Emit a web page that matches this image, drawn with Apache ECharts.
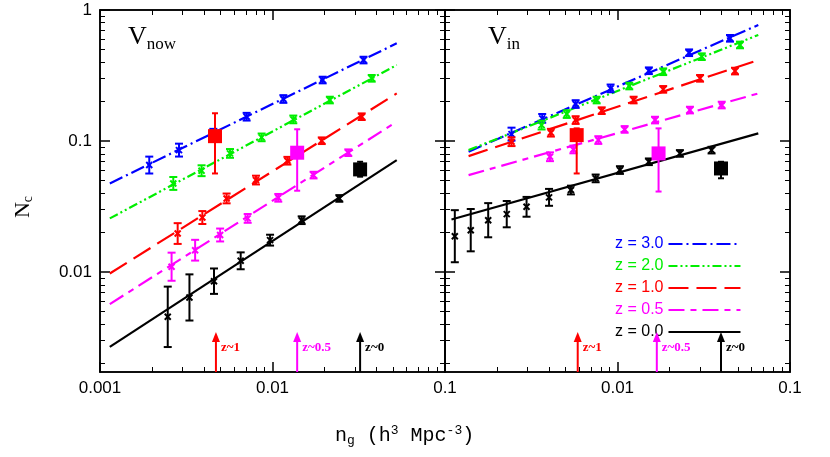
<!DOCTYPE html>
<html lang="en">
<head>
<meta charset="UTF-8">
<title>Nc vs ng</title>
<script src="https://cdn.jsdelivr.net/npm/echarts@6/dist/echarts.min.js"></script>
</head>
<body style="margin:0">
<div id="main" style="width:830px;height:457px;"></div>
<script>
// ---- data: left panel (V_now) ----
const nowBlueX = [0.00193, 0.00287, 0.00454, 0.00708, 0.01156, 0.01954, 0.0337];
const nowBlueY = [0.0656, 0.0853, 0.1158, 0.1534, 0.2094, 0.2922, 0.415];
const nowBlueE = [1.16, 1.12, 1.07, 1.07, 1.07, 1.06, 1.06];
const nowGreenX = [0.00266, 0.00388, 0.00567, 0.00865, 0.0132, 0.0215, 0.0376];
const nowGreenY = [0.0475, 0.0594, 0.0805, 0.1067, 0.1463, 0.2056, 0.301];
const nowGreenE = [1.12, 1.1, 1.08, 1.07, 1.07, 1.06, 1.06];
const nowRedX = [0.00282, 0.00392, 0.00542, 0.00802, 0.0122, 0.0193, 0.0329];
const nowRedY = [0.0197, 0.0261, 0.0365, 0.0504, 0.0708, 0.1006, 0.1534];
const nowRedE = [1.2, 1.12, 1.09, 1.08, 1.07, 1.06, 1.06];
const nowMagX = [0.0026, 0.00356, 0.00497, 0.00718, 0.0108, 0.0173, 0.0275];
const nowMagY = [0.011, 0.0147, 0.0192, 0.0257, 0.0369, 0.055, 0.0815];
const nowMagE = [1.28, 1.2, 1.12, 1.08, 1.07, 1.06, 1.06];
const nowBlackX = [0.00247, 0.0033, 0.00458, 0.00654, 0.00968, 0.01476, 0.0244];
const nowBlackY = [0.00456, 0.00641, 0.00853, 0.0122, 0.01754, 0.0249, 0.0365];
const nowBlackE = [1.7, 1.5, 1.25, 1.16, 1.1, 1.07, 1.06];
const nowFitX = [0.00114, 0.0525];
const nowFitBlue = [0.0475, 0.557];
const nowFitGreen = [0.0257, 0.38];
const nowFitRed = [0.00977, 0.231];
const nowFitMag = [0.0057, 0.1405];
const nowFitBlack = [0.00269, 0.0716];

// ---- data: right panel (V_in) ----
const inBlueX = [0.00243, 0.00366, 0.00572, 0.00912, 0.0152, 0.026, 0.0449];
const inBlueY = [0.113, 0.149, 0.1916, 0.2523, 0.344, 0.472, 0.608];
const inBlueE = [1.12, 1.08, 1.07, 1.07, 1.06, 1.06, 1.06];
const inGreenX = [0.00363, 0.00508, 0.00757, 0.0117, 0.0184, 0.0308, 0.0513];
const inGreenY = [0.1324, 0.1607, 0.2056, 0.263, 0.338, 0.4405, 0.541];
const inGreenE = [1.08, 1.07, 1.06, 1.06, 1.06, 1.06, 1.06];
const inRedX = [0.00243, 0.00411, 0.00572, 0.0081, 0.0124, 0.0184, 0.0301, 0.048];
const inRedY = [0.0989, 0.1158, 0.1446, 0.1706, 0.2056, 0.248, 0.301, 0.342];
const inRedE = [1.08, 1.07, 1.07, 1.06, 1.06, 1.06, 1.06, 1.06];
const inMagX = [0.00406, 0.00555, 0.00774, 0.011, 0.0165, 0.0263, 0.0402];
const inMagY = [0.0759, 0.0863, 0.1018, 0.1227, 0.1446, 0.1724, 0.1883];
const inMagE = [1.08, 1.07, 1.07, 1.06, 1.06, 1.06, 1.06];
const inBlackX = [0.00114, 0.00141, 0.00178, 0.00228, 0.00297, 0.00401, 0.00537, 0.00747, 0.01033, 0.0152, 0.023, 0.0351];
const inBlackY = [0.0188, 0.0209, 0.0249, 0.0277, 0.0315, 0.0372, 0.0423, 0.0519, 0.0601, 0.0695, 0.0805, 0.0853];
const inBlackE = [1.58, 1.45, 1.35, 1.26, 1.19, 1.16, 1.08, 1.07, 1.07, 1.06, 1.06, 1.06];
const inFitX = [0.00137, 0.0655];
const inFitBlue = [0.083, 0.768];
const inFitGreen = [0.0853, 0.645];
const inFitRed = [0.0768, 0.415];
const inFitMag = [0.055, 0.231];
const inFitBlackX = [0.00109, 0.0655];
const inFitBlack = [0.0252, 0.1145];

// ---- observed points (squares) ----
const obsColors = ['#ff0000', '#ff00ff', '#000000'];
const nowObsX = [0.00464, 0.0139, 0.0322];
const nowObsY = [0.109, 0.0815, 0.0608];
const nowObsLo = [0.0566, 0.0418, 0.0535];
const nowObsHi = [0.163, 0.123, 0.0695];
const inObsX = [0.0058, 0.0173, 0.0398];
const inObsY = [0.111, 0.0805, 0.0618];
const inObsLo = [0.0566, 0.0412, 0.052];
const inObsHi = [0.125, 0.125, 0.0695];

// ---- arrows ----
const arrowLabels = ['z~1', 'z~0.5', 'z~0'];
const nowArrowX = [0.0047, 0.0139, 0.0322];
const inArrowX = [0.00588, 0.0169, 0.0398];
const arrowTop = 0.0035;

const yTicks = [0.01, 0.1, 1];
const xTicks = [0.001, 0.01, 0.1];

const names = ['z = 3.0', 'z = 2.0', 'z = 1.0', 'z = 0.5', 'z = 0.0'];
const colors = ['#0000ff', '#00ee00', '#ff0000', '#ff00ff', '#000000'];
const dashes = [[14, 4, 2, 4], [9, 3, 2, 3, 2, 3], [20, 8], [16, 6, 6, 6], 'solid'];

const YMIN = 0.00173, YMAX = 1, XMIN = 0.001, XMAX = 0.1;

function minors(lo, hi) {
    const out = [];
    for (let d = lo; d < hi * 0.99; d *= 10) {
        for (let k = 2; k <= 9; k++) out.push(+(d * k).toPrecision(3));
    }
    return out;
}
const xMinor = minors(0.001, 0.1);
const yMinor = minors(0.001, 1).filter(v => v > YMIN);

const grids = [
    { left: 100, top: 10, width: 345, height: 362 },
    { left: 445, top: 10, width: 345, height: 362 }
];

const xAxes = [], yAxes = [];
function addAxes(gi, labels) {
    const base = { type: 'log', gridIndex: gi, min: XMIN, max: XMAX, logBase: 10, splitLine: { show: false }, axisLine: { lineStyle: { color: '#000', width: 1.5 } } };
    ['bottom', 'top'].forEach(pos => {
        xAxes.push(Object.assign({}, base, {
            position: pos,
            axisTick: { inside: true, length: 10, customValues: xTicks, lineStyle: { color: '#000', width: 1.5 } },
            axisLabel: { show: pos === 'bottom', customValues: labels, color: '#000', fontSize: 17, fontFamily: 'Liberation Sans', margin: 8,
                formatter: v => String(+v.toPrecision(1)) }
        }));
        xAxes.push(Object.assign({}, base, {
            position: pos,
            axisTick: { inside: true, length: 5, customValues: xMinor, lineStyle: { color: '#000', width: 1 } },
            axisLabel: { show: true, customValues: xMinor, formatter: () => '' }
        }));
    });
    const ybase = { type: 'log', gridIndex: gi, min: YMIN, max: YMAX, logBase: 10, splitLine: { show: false }, axisLine: { lineStyle: { color: '#000', width: 1.5 } } };
    ['left', 'right'].forEach(pos => {
        yAxes.push(Object.assign({}, ybase, {
            position: pos,
            axisTick: { inside: true, length: 10, customValues: yTicks, lineStyle: { color: '#000', width: 1.5 } },
            axisLabel: { show: gi === 0 && pos === 'left', customValues: yTicks, color: '#000', fontSize: 17, fontFamily: 'Liberation Sans', margin: 8,
                formatter: v => String(+v.toPrecision(1)) }
        }));
        yAxes.push(Object.assign({}, ybase, {
            position: pos,
            axisTick: { inside: true, length: 5, customValues: yMinor, lineStyle: { color: '#000', width: 1 } },
            axisLabel: { show: true, customValues: yMinor, formatter: () => '' }
        }));
    });
}
addAxes(0, xTicks);
addAxes(1, [0.01, 0.1]);

const series = [];
function ax(gi) { return { xAxisIndex: gi * 4, yAxisIndex: gi * 4 }; }

function fit(gi, name, xs, ys, k) {
    series.push(Object.assign({
        name: name, type: 'line', showSymbol: false, symbol: 'none', silent: true,
        data: xs.map((x, i) => [x, ys[i]]),
        lineStyle: { color: colors[k], width: 2.2, type: dashes[k] },
        itemStyle: { color: colors[k] }, z: 2
    }, ax(gi)));
}

function points(gi, xs, ys, es, k) {
    series.push(Object.assign({
        type: 'custom', silent: true, z: 3,
        data: xs.map((x, i) => [x, ys[i], es[i]]),
        encode: { x: 0, y: 1 },
        renderItem: function (params, api) {
            const x = api.value(0), y = api.value(1), f = api.value(2);
            const p = api.coord([x, y]);
            const t = api.coord([x, y * f]);
            const b = api.coord([x, y / f]);
            const st = { stroke: colors[k], lineWidth: 2 };
            return {
                type: 'group', children: [
                    { type: 'line', shape: { x1: p[0], y1: t[1], x2: p[0], y2: b[1] }, style: st },
                    { type: 'line', shape: { x1: p[0] - 4, y1: t[1], x2: p[0] + 4, y2: t[1] }, style: st },
                    { type: 'line', shape: { x1: p[0] - 4, y1: b[1], x2: p[0] + 4, y2: b[1] }, style: st },
                    { type: 'line', shape: { x1: p[0] - 3, y1: p[1] - 3, x2: p[0] + 3, y2: p[1] + 3 }, style: st },
                    { type: 'line', shape: { x1: p[0] - 3, y1: p[1] + 3, x2: p[0] + 3, y2: p[1] - 3 }, style: st }
                ]
            };
        }
    }, ax(gi)));
}

function obs(gi, xs, ys, lo, hi) {
    series.push(Object.assign({
        type: 'custom', silent: true, z: 4,
        data: xs.map((x, i) => [x, ys[i], lo[i], hi[i], i]),
        encode: { x: 0, y: 1 },
        renderItem: function (params, api) {
            const x = api.value(0);
            const c = obsColors[api.value(4)];
            const p = api.coord([x, api.value(1)]);
            const l = api.coord([x, api.value(2)]);
            const h = api.coord([x, api.value(3)]);
            const st = { stroke: c, lineWidth: 2 };
            return {
                type: 'group', children: [
                    { type: 'line', shape: { x1: p[0], y1: h[1], x2: p[0], y2: l[1] }, style: st },
                    { type: 'line', shape: { x1: p[0] - 3, y1: h[1], x2: p[0] + 3, y2: h[1] }, style: st },
                    { type: 'line', shape: { x1: p[0] - 3, y1: l[1], x2: p[0] + 3, y2: l[1] }, style: st },
                    { type: 'rect', shape: { x: p[0] - 7, y: p[1] - 7, width: 14, height: 14 }, style: { fill: c } }
                ]
            };
        }
    }, ax(gi)));
}

function arrows(gi, xs) {
    series.push(Object.assign({
        type: 'custom', silent: true, z: 4,
        data: xs.map((x, i) => [x, arrowTop, i]),
        encode: { x: 0, y: 1 },
        renderItem: function (params, api) {
            const x = api.value(0), i = api.value(2);
            const c = obsColors[i];
            const t = api.coord([x, arrowTop]);
            const b = api.coord([x, YMIN]);
            return {
                type: 'group', children: [
                    { type: 'line', shape: { x1: t[0], y1: t[1] + 6, x2: t[0], y2: b[1] }, style: { stroke: c, lineWidth: 2 } },
                    { type: 'polygon', shape: { points: [[t[0] - 4, t[1] + 10], [t[0] + 4, t[1] + 10], [t[0], t[1]]] }, style: { fill: c } },
                    { type: 'text', x: t[0] + 5, y: t[1] + 16, style: { text: arrowLabels[i], fill: c, font: 'bold 13px "Liberation Serif"', verticalAlign: 'middle' } }
                ]
            };
        }
    }, ax(gi)));
}

// left panel
fit(0, names[0], nowFitX, nowFitBlue, 0);
fit(0, names[1], nowFitX, nowFitGreen, 1);
fit(0, names[2], nowFitX, nowFitRed, 2);
fit(0, names[3], nowFitX, nowFitMag, 3);
fit(0, names[4], nowFitX, nowFitBlack, 4);
points(0, nowBlueX, nowBlueY, nowBlueE, 0);
points(0, nowGreenX, nowGreenY, nowGreenE, 1);
points(0, nowRedX, nowRedY, nowRedE, 2);
points(0, nowMagX, nowMagY, nowMagE, 3);
points(0, nowBlackX, nowBlackY, nowBlackE, 4);
obs(0, nowObsX, nowObsY, nowObsLo, nowObsHi);
arrows(0, nowArrowX);

// right panel
fit(1, names[0], inFitX, inFitBlue, 0);
fit(1, names[1], inFitX, inFitGreen, 1);
fit(1, names[2], inFitX, inFitRed, 2);
fit(1, names[3], inFitX, inFitMag, 3);
fit(1, names[4], inFitBlackX, inFitBlack, 4);
points(1, inBlueX, inBlueY, inBlueE, 0);
points(1, inGreenX, inGreenY, inGreenE, 1);
points(1, inRedX, inRedY, inRedE, 2);
points(1, inMagX, inMagY, inMagE, 3);
points(1, inBlackX, inBlackY, inBlackE, 4);
obs(1, inObsX, inObsY, inObsLo, inObsHi);
arrows(1, inArrowX);

const myChart = echarts.init(document.getElementById('main'));
myChart.setOption({
    animation: false,
    backgroundColor: '#fff',
    grid: grids,
    xAxis: xAxes,
    yAxis: yAxes,
    legend: {
        orient: 'vertical', left: 610, top: 231, align: 'right',
        itemWidth: 72, itemHeight: 12, itemGap: 6, selectedMode: false,
        itemStyle: { opacity: 0 },
        textStyle: { fontSize: 16, fontFamily: 'Liberation Sans' },
        data: names.map((n, k) => ({ name: n, textStyle: { color: colors[k] } }))
    },
    graphic: [
        { type: 'text', left: 128, top: 24, style: { rich: { b: { fontSize: 26, fontFamily: 'Liberation Serif' }, s: { fontSize: 17, fontFamily: 'Liberation Serif', padding: [16, 0, 0, 0] } }, text: '{b|V}{s|now}' } },
        { type: 'text', left: 488, top: 24, style: { rich: { b: { fontSize: 26, fontFamily: 'Liberation Serif' }, s: { fontSize: 17, fontFamily: 'Liberation Serif', padding: [16, 0, 0, 0] } }, text: '{b|V}{s|in}' } },
        { type: 'text', left: 12, top: 196, rotation: Math.PI / 2, style: { rich: { b: { fontSize: 22, fontFamily: 'Liberation Serif' }, s: { fontSize: 14, fontFamily: 'Liberation Serif', padding: [10, 0, 0, 0] } }, text: '{b|N}{s|c}' } },
        { type: 'text', left: 335, top: 424, style: { rich: { b: { fontSize: 20, fontFamily: 'Liberation Mono' }, s: { fontSize: 13, fontFamily: 'Liberation Mono', padding: [10, 0, 0, 0] }, p: { fontSize: 13, fontFamily: 'Liberation Mono', padding: [0, 0, 10, 0] } }, text: '{b|n}{s|g}{b| (h}{p|3}{b| Mpc}{p|-3}{b|)}' } }
    ],
    series: series
});
</script>
</body>
</html>
